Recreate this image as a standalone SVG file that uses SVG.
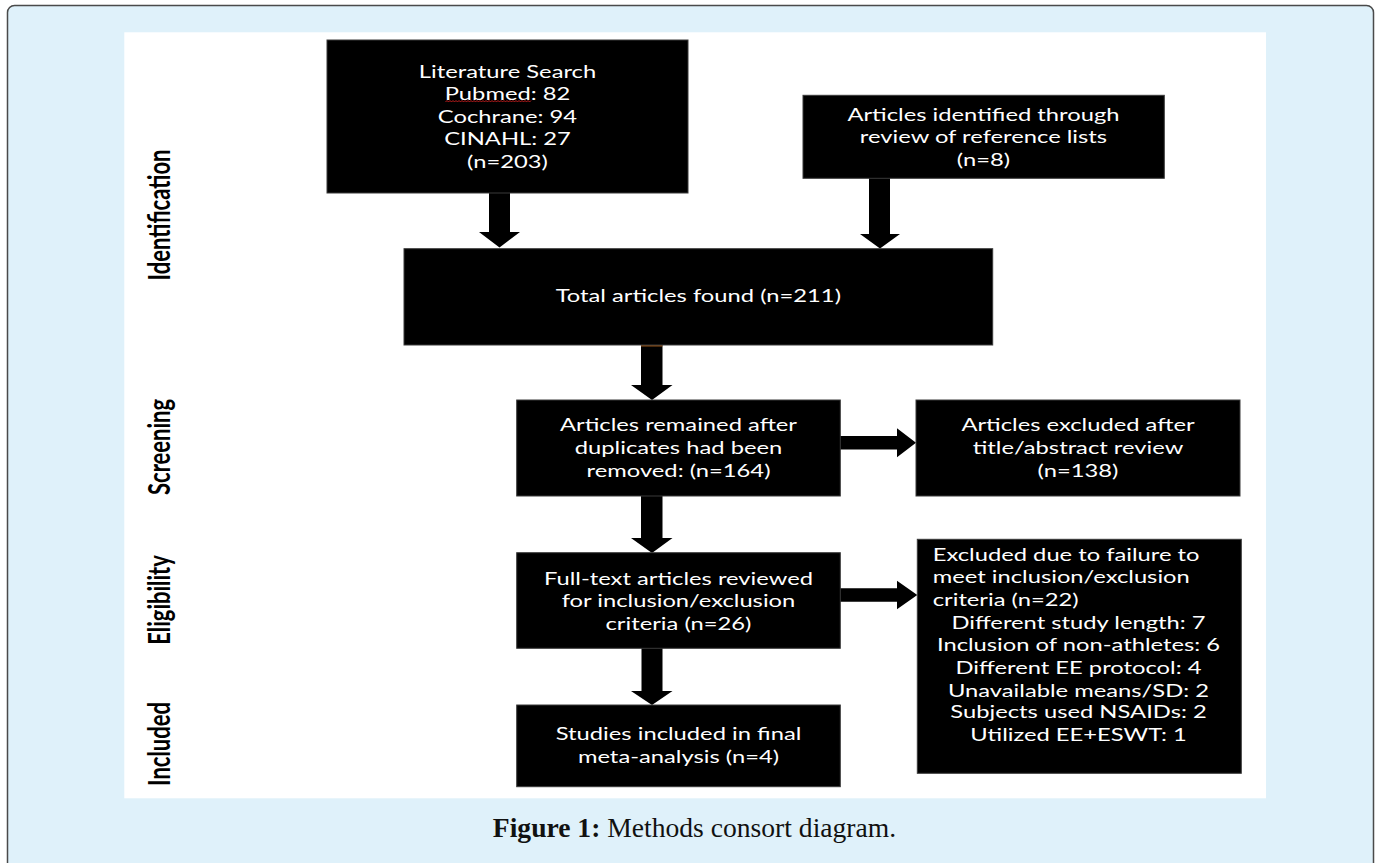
<svg xmlns="http://www.w3.org/2000/svg" width="1381" height="863" viewBox="0 0 1381 863">
<style>
.box{fill:#000;stroke:#3a3a3a;stroke-width:1}
.t{font-family:Lato,"Liberation Sans",sans-serif;font-size:18px;fill:#fff;text-anchor:middle}
.tl{font-family:Lato,"Liberation Sans",sans-serif;font-size:18px;fill:#fff;text-anchor:start}
.lab{font-family:Lato,"Liberation Sans",sans-serif;font-size:22px;font-weight:bold;fill:#000;text-anchor:middle}
.arr{fill:#000}
.cap{font-family:"Liberation Serif",serif;font-size:27.6px;fill:#111;text-anchor:middle}
</style>
<rect x="7.5" y="5.5" width="1366" height="870" rx="7" fill="#dff1fa" stroke="#4a4a4a" stroke-width="1.5"/>
<rect x="124.3" y="32.3" width="1141.7" height="766" fill="#fff"/>

<g id="labels">
<text class="lab" transform="translate(170,215) scale(1.4,1) rotate(-90)">Identification</text>
<text class="lab" transform="translate(170,447) scale(1.4,1) rotate(-90)">Screening</text>
<text class="lab" transform="translate(170,600) scale(1.4,1) rotate(-90)">Eligibility</text>
<text class="lab" transform="translate(170,744) scale(1.4,1) rotate(-90)">Included</text>
</g>

<g id="connectors">
<polygon class="arr" points="489,192 510,192 510,232 520,232 499.5,247.5 479,232 489,232"/>
<polygon class="arr" points="869,178 890,178 890,234 900,234 880,248.5 860,234 869,234"/>
<polygon class="arr" points="641,345 662.5,345 662.5,385 672.5,385 652,400 631,385 641,385"/>
<line x1="641" y1="345.8" x2="662.5" y2="345.8" stroke="#b8651a" stroke-width="1.2"/>
<polygon class="arr" points="641,496 662.5,496 662.5,538 672.5,538 652,553 631,538 641,538"/>
<polygon class="arr" points="641.5,648 662.5,648 662.5,691 672.5,691 652,705 631,691 641.5,691"/>
<polygon class="arr" points="840,436 897,436 897,428.3 916,442.7 897,457.3 897,449.5 840,449.5"/>
<polygon class="arr" points="840,588.3 897,588.3 897,580.7 917.3,595 897,609.3 897,601.7 840,601.7"/>
</g>

<g id="n-literature">
<rect class="box" x="327" y="40" width="361" height="153"/>
<g transform="translate(507.5,0) scale(1.32,1)">
<text class="t" x="0" y="77.7">Literature Search</text>
<text class="t" x="0" y="100">Pubmed: 82</text>
<text class="t" x="0" y="122.7">Cochrane: 94</text>
<text class="t" x="0" y="145">CINAHL: 27</text>
<text class="t" x="0" y="167.7">(n=203)</text>
</g>
<path d="M445.5,102 l1.5,-1.5 l1.5,1.5 l1.5,-1.5 l1.5,1.5 l1.5,-1.5 l1.5,1.5 l1.5,-1.5 l1.5,1.5 l1.5,-1.5 l1.5,1.5 l1.5,-1.5 l1.5,1.5 l1.5,-1.5 l1.5,1.5 l1.5,-1.5 l1.5,1.5 l1.5,-1.5 l1.5,1.5 l1.5,-1.5 l1.5,1.5 l1.5,-1.5 l1.5,1.5 l1.5,-1.5 l1.5,1.5 l1.5,-1.5 l1.5,1.5 l1.5,-1.5 l1.5,1.5 l1.5,-1.5 l1.5,1.5 l1.5,-1.5 l1.5,1.5 l1.5,-1.5 l1.5,1.5 l1.5,-1.5 l1.5,1.5 l1.5,-1.5 l1.5,1.5 l1.5,-1.5 l1.5,1.5 l1.5,-1.5 l1.5,1.5 l1.5,-1.5 l1.5,1.5 l1.5,-1.5 l1.5,1.5 l1.5,-1.5 l1.5,1.5 l1.5,-1.5 l1.5,1.5 l1.5,-1.5 l1.5,1.5 l1.5,-1.5 l1.5,1.5 l1.5,-1.5 l1.5,1.5 l1.5,-1.5" fill="none" stroke="#d42020" stroke-width="0.9"/>
</g>

<g id="n-reference">
<rect class="box" x="803" y="95.3" width="361.3" height="83"/>
<g transform="translate(983.5,0) scale(1.32,1)">
<text class="t" x="0" y="120.7">Articles identified through</text>
<text class="t" x="0" y="143">review of reference lists</text>
<text class="t" x="0" y="166">(n=8)</text>
</g>
</g>

<g id="n-total">
<rect class="box" x="404" y="248.7" width="588.7" height="96.3"/>
<g transform="translate(698.3,0) scale(1.32,1)">
<text class="t" x="0" y="301.7">Total articles found (n=211)</text>
</g>
</g>

<g id="n-remained">
<rect class="box" x="516.7" y="400" width="323.6" height="96"/>
<g transform="translate(678.5,0) scale(1.32,1)">
<text class="t" x="0" y="431">Articles remained after</text>
<text class="t" x="0" y="454">duplicates had been</text>
<text class="t" x="0" y="476.7">removed: (n=164)</text>
</g>
</g>

<g id="n-excluded-title">
<rect class="box" x="916" y="400" width="324" height="96"/>
<g transform="translate(1078,0) scale(1.32,1)">
<text class="t" x="0" y="431">Articles excluded after</text>
<text class="t" x="0" y="454">title/abstract review</text>
<text class="t" x="0" y="476.7">(n=138)</text>
</g>
</g>

<g id="n-fulltext">
<rect class="box" x="516.7" y="552.7" width="323.6" height="95.6"/>
<g transform="translate(678.5,0) scale(1.32,1)">
<text class="t" x="0" y="585">Full-text articles reviewed</text>
<text class="t" x="0" y="607.3">for inclusion/exclusion</text>
<text class="t" x="0" y="630">criteria (n=26)</text>
</g>
</g>

<g id="n-excluded-criteria">
<rect class="box" x="917.3" y="539.3" width="324" height="234"/>
<g transform="translate(932.7,0) scale(1.32,1)">
<text class="tl" x="0" y="561">Excluded due to failure to</text>
<text class="tl" x="0" y="583.3">meet inclusion/exclusion</text>
<text class="tl" x="0" y="606">criteria (n=22)</text>
</g>
<g transform="translate(1078.5,0) scale(1.32,1)">
<text class="t" x="0" y="629">Different study length: 7</text>
<text class="t" x="0" y="651.3">Inclusion of non-athletes: 6</text>
<text class="t" x="0" y="674">Different EE protocol: 4</text>
<text class="t" x="0" y="696.7">Unavailable means/SD: 2</text>
<text class="t" x="0" y="718.3">Subjects used NSAIDs: 2</text>
<text class="t" x="0" y="740.7">Utilized EE+ESWT: 1</text>
</g>
</g>

<g id="n-included">
<rect class="box" x="516.7" y="705" width="323.6" height="81.7"/>
<g transform="translate(678.5,0) scale(1.32,1)">
<text class="t" x="0" y="740">Studies included in final</text>
<text class="t" x="0" y="763.3">meta-analysis (n=4)</text>
</g>
</g>

<g id="caption">
<text class="cap" x="694.5" y="837"><tspan font-weight="bold">Figure 1:</tspan> Methods consort diagram.</text>
</g>
</svg>
